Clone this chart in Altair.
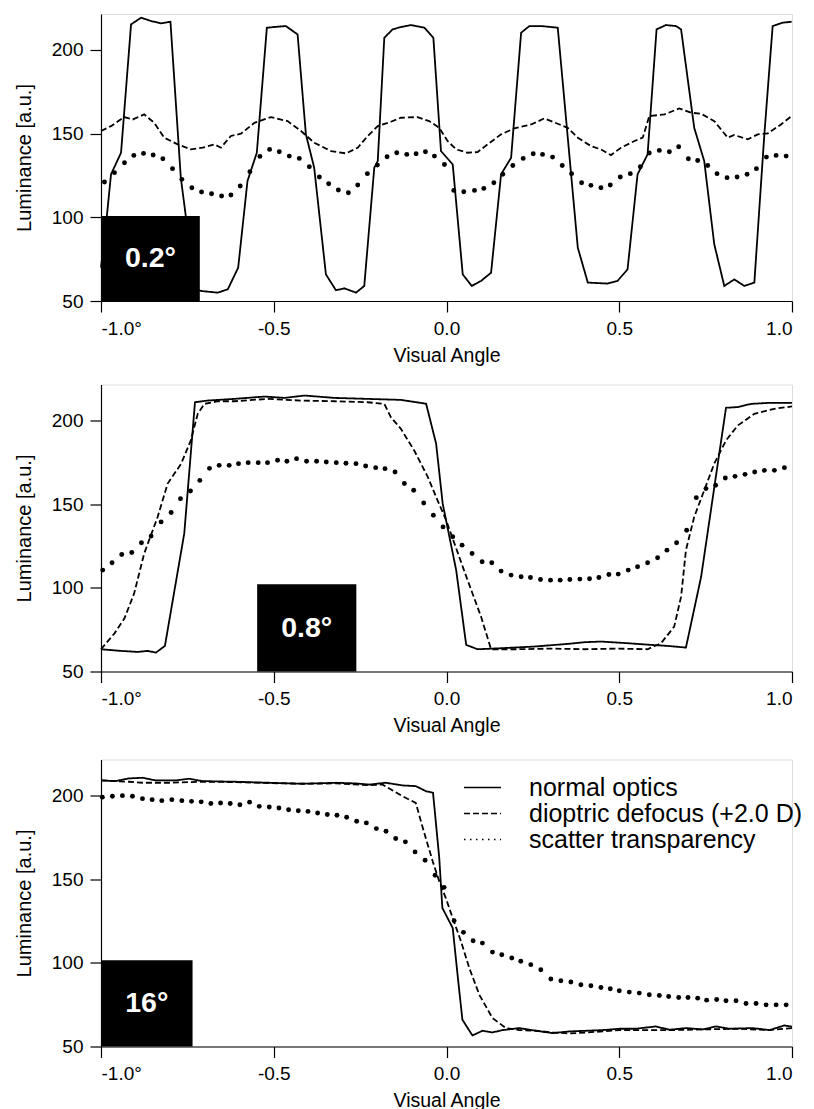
import altair as alt
import pandas as pd

FONT = "Liberation Sans"
SERIES = ["normal optics", "dioptric defocus (+2.0 D)", "scatter transparency"]
X_TICKS = [-1.0, -0.5, 0.0, 0.5, 1.0]
Y_TICKS = [50, 100, 150, 200]
Y_DOMAIN = [50, 221.5]

# ---------------- Panel 1 (0.2°) ----------------
p1_solid_x = [-1.000, -0.983, -0.971, -0.942, -0.913, -0.884, -0.855, -0.826, -0.799, -0.769, -0.754, -0.735,
              -0.711, -0.662, -0.633, -0.603, -0.576, -0.549, -0.520, -0.489, -0.465, -0.431, -0.407, -0.383,
              -0.349, -0.320, -0.296, -0.262, -0.238, -0.209, -0.199, -0.180, -0.156, -0.132, -0.103, -0.064,
              -0.038, -0.016, 0.018, 0.047, 0.073, 0.100, 0.129, 0.158, 0.187, 0.216, 0.240, 0.274, 0.322,
              0.380, 0.409, 0.466, 0.495, 0.524, 0.553, 0.582, 0.608, 0.635, 0.664, 0.679, 0.717, 0.746, 0.775,
              0.804, 0.833, 0.862, 0.891, 0.920, 0.944, 0.973, 0.999]
p1_solid_y = [70.0, 100.8, 125.7, 138.6, 215.3, 219.3, 217.3, 215.9, 216.9, 123.7, 99.8, 58.0,
              56.0, 55.0, 57.0, 69.9, 121.7, 138.6, 213.3, 213.9, 214.3, 209.3, 149.6, 129.7,
              65.9, 56.4, 57.6, 55.0, 59.0, 129.7, 133.6, 207.3, 212.3, 213.7, 214.9, 213.3,
              207.3, 139.6, 131.6, 65.9, 59.0, 62.0, 66.9, 125.7, 135.6, 210.3, 214.3, 214.3, 213.3,
              81.9, 61.0, 60.4, 62.0, 68.9, 125.7, 137.6, 212.3, 214.9, 214.3, 212.3, 153.5, 133.6, 83.9,
              59.0, 62.9, 59.0, 61.0, 149.6, 214.3, 216.3, 216.9]
p1_dash_x = [-1.000, -0.971, -0.933, -0.908, -0.875, -0.846, -0.817, -0.778, -0.740, -0.706, -0.672, -0.653,
             -0.624, -0.595, -0.556, -0.508, -0.460, -0.421, -0.383, -0.334, -0.291, -0.257, -0.228, -0.199,
             -0.161, -0.132, -0.084, -0.050, -0.021, 0.003, 0.028, 0.061, 0.090, 0.119, 0.158, 0.196, 0.245,
             0.283, 0.322, 0.351, 0.380, 0.418, 0.447, 0.476, 0.505, 0.544, 0.568, 0.587, 0.631, 0.674, 0.708,
             0.737, 0.775, 0.814, 0.833, 0.872, 0.901, 0.930, 0.968, 0.999]
p1_dash_y = [151.6, 154.5, 159.9, 158.5, 161.5, 156.5, 147.6, 143.6, 140.6, 141.6, 143.6, 141.6,
             148.6, 150.0, 156.5, 159.9, 157.5, 151.6, 144.6, 139.6, 138.2, 141.6, 148.6, 154.5,
             157.1, 159.5, 159.9, 157.5, 153.5, 145.6, 140.6, 138.6, 139.0, 143.6, 149.6, 153.1, 155.5,
             159.1, 155.9, 153.5, 147.6, 142.6, 140.6, 137.2, 141.6, 145.6, 147.6, 160.5, 161.5, 165.1, 162.5,
             161.9, 157.5, 147.6, 149.2, 146.6, 149.6, 150.2, 155.5, 160.5]
p1_dot_x = [-0.990, -0.961, -0.932, -0.905, -0.877, -0.849, -0.821, -0.793, -0.766, -0.737, -0.709, -0.680,
            -0.651, -0.624, -0.597, -0.569, -0.540, -0.512, -0.484, -0.455, -0.426, -0.397, -0.368, -0.341,
            -0.313, -0.284, -0.257, -0.229, -0.200, -0.172, -0.144, -0.115, -0.088, -0.061, -0.035, -0.006,
            0.021, 0.050, 0.081, 0.108, 0.137, 0.163, 0.192, 0.222, 0.251, 0.278, 0.307, 0.335, 0.362, 0.391,
            0.418, 0.447, 0.474, 0.503, 0.532, 0.561, 0.587, 0.616, 0.645, 0.672, 0.700, 0.727, 0.756, 0.783,
            0.812, 0.841, 0.870, 0.897, 0.926, 0.954, 0.983]
p1_dot_y = [121.1, 126.7, 132.6, 137.0, 138.2, 137.2, 135.0, 129.1, 122.7, 117.7, 115.1, 114.1,
            112.7, 113.3, 118.7, 127.3, 136.4, 140.6, 139.2, 136.6, 135.2, 130.2, 124.1, 120.1,
            116.3, 114.7, 119.3, 126.1, 131.2, 136.2, 138.6, 137.6, 138.0, 139.2, 136.6, 131.6,
            116.1, 115.3, 116.1, 117.3, 120.7, 125.7, 131.0, 135.2, 138.0, 137.6, 136.0, 131.0, 126.1, 120.7,
            119.1, 117.7, 119.3, 124.1, 126.1, 130.2, 138.4, 140.0, 139.2, 142.2, 135.0, 134.0, 131.0, 126.1,
            123.7, 124.1, 125.7, 129.1, 136.0, 137.0, 136.6]

# ---------------- Panel 2 (0.8°) ----------------
p2_solid_x = [-1.000, -0.942, -0.894, -0.865, -0.841, -0.815, -0.759, -0.728, -0.691, -0.614, -0.527, -0.469,
              -0.411, -0.325, -0.228, -0.132, -0.059, -0.030, -0.011, 0.028, 0.057, 0.090, 0.158, 0.254,
              0.351, 0.399, 0.447, 0.524, 0.592, 0.640, 0.693, 0.737, 0.809, 0.843, 0.881, 0.930, 1.000]
p2_solid_y = [63.3, 62.3, 61.7, 62.3, 61.3, 65.3, 132.5, 210.9, 211.9, 212.9, 214.3, 213.5,
              214.9, 213.5, 212.9, 212.3, 210.0, 186.1, 150.3, 110.6, 65.9, 63.3, 63.9, 64.9,
              66.5, 67.5, 67.9, 66.9, 65.9, 65.3, 64.3, 106.6, 207.6, 208.0, 209.9, 210.5, 210.5]
p2_dash_x = [-1.000, -0.961, -0.932, -0.904, -0.875, -0.836, -0.807, -0.768, -0.740, -0.720, -0.701, -0.662,
             -0.614, -0.518, -0.421, -0.325, -0.228, -0.180, -0.161, -0.132, -0.093, -0.054, -0.026, -0.001,
             0.023, 0.061, 0.100, 0.129, 0.206, 0.303, 0.399, 0.495, 0.582, 0.621, 0.659, 0.679, 0.693,
             0.717, 0.746, 0.775, 0.809, 0.843, 0.891, 0.949, 1.000]
p2_dash_y = [63.3, 72.8, 81.8, 96.7, 120.5, 142.4, 162.3, 174.2, 188.1, 204.0, 209.9, 211.5,
             211.5, 212.9, 211.9, 211.5, 210.9, 209.9, 202.0, 195.0, 181.9, 166.2, 152.3, 140.4,
             126.5, 104.6, 82.8, 63.3, 63.3, 63.7, 63.3, 63.7, 63.3, 66.9, 76.8, 94.7, 122.5,
             142.4, 158.3, 174.2, 188.1, 197.0, 204.0, 207.0, 208.4]
p2_dot_x = [-0.995, -0.968, -0.940, -0.911, -0.883, -0.855, -0.826, -0.797, -0.770, -0.741, -0.714, -0.686,
            -0.658, -0.629, -0.602, -0.574, -0.545, -0.518, -0.489, -0.462, -0.434, -0.405, -0.376, -0.348,
            -0.319, -0.291, -0.262, -0.234, -0.205, -0.178, -0.149, -0.122, -0.095, -0.066, -0.038, -0.010,
            0.018, 0.045, 0.074, 0.103, 0.131, 0.158, 0.187, 0.216, 0.243, 0.272, 0.301, 0.329, 0.357, 0.386,
            0.414, 0.441, 0.470, 0.497, 0.526, 0.553, 0.582, 0.611, 0.638, 0.666, 0.695, 0.723, 0.751, 0.779,
            0.807, 0.835, 0.864, 0.892, 0.920, 0.949, 0.978]
p2_dot_y = [110.6, 115.0, 119.9, 121.1, 126.9, 130.9, 139.4, 145.0, 153.3, 157.9, 164.2, 171.4,
            173.2, 173.2, 174.2, 174.8, 174.8, 174.8, 176.2, 175.6, 177.2, 175.6, 175.6, 175.2,
            174.8, 174.4, 174.2, 172.8, 171.8, 171.2, 169.2, 162.3, 158.3, 150.7, 143.4, 136.4,
            130.5, 125.5, 120.5, 115.6, 115.0, 110.0, 107.6, 106.6, 106.2, 105.0, 104.6, 104.6, 105.0, 105.2,
            105.4, 106.2, 108.0, 108.2, 110.6, 112.6, 115.0, 118.0, 122.5, 126.9, 134.4, 153.9, 159.3, 161.3,
            165.6, 166.6, 167.8, 169.2, 170.2, 170.2, 171.8]

# ---------------- Panel 3 (16°) ----------------
p3_solid_x = [-1.000, -0.958, -0.919, -0.880, -0.842, -0.784, -0.745, -0.707, -0.610, -0.513, -0.417, -0.320,
              -0.262, -0.224, -0.176, -0.127, -0.089, -0.060, -0.039, -0.021, -0.012, 0.018, 0.032, 0.046,
              0.075, 0.104, 0.133, 0.162, 0.211, 0.259, 0.307, 0.355, 0.404, 0.452, 0.500, 0.548, 0.606,
              0.645, 0.693, 0.742, 0.780, 0.819, 0.886, 0.935, 0.978, 1.000]
p3_solid_y = [209.0, 208.6, 210.2, 210.6, 209.0, 209.0, 210.0, 208.6, 208.2, 207.6, 207.0, 207.6,
              207.2, 206.5, 207.6, 206.0, 205.6, 202.6, 201.6, 162.7, 132.8, 120.8, 92.9, 66.0,
              56.6, 59.4, 58.4, 59.8, 61.0, 59.4, 58.0, 59.0, 59.4, 59.8, 60.6, 60.6, 62.0,
              60.0, 61.0, 60.2, 62.0, 60.6, 61.0, 59.8, 62.6, 61.8]
p3_dash_x = [-1.000, -0.919, -0.880, -0.803, -0.707, -0.610, -0.513, -0.417, -0.320, -0.224, -0.185, -0.127,
             -0.089, -0.074, -0.060, -0.040, -0.021, -0.002, 0.018, 0.042, 0.066, 0.095, 0.133, 0.172, 0.211,
             0.259, 0.307, 0.355, 0.404, 0.452, 0.500, 0.548, 0.645, 0.742, 0.838, 0.935, 1.000]
p3_dash_y = [209.0, 208.2, 207.6, 207.6, 208.2, 208.0, 207.4, 207.0, 207.2, 206.2, 206.5, 199.5,
             195.6, 184.6, 174.6, 160.7, 148.7, 138.7, 126.7, 112.8, 96.9, 80.9, 67.0, 61.0, 59.8,
             59.4, 58.4, 57.8, 58.4, 59.0, 59.8, 59.8, 59.8, 60.2, 60.6, 59.8, 61.0]
p3_dot_x = [-0.996, -0.967, -0.938, -0.909, -0.880, -0.852, -0.824, -0.795, -0.766, -0.738, -0.710, -0.682,
            -0.654, -0.626, -0.598, -0.570, -0.542, -0.513, -0.485, -0.457, -0.429, -0.401, -0.373, -0.345,
            -0.317, -0.289, -0.260, -0.232, -0.203, -0.175, -0.147, -0.119, -0.091, -0.062, -0.033, -0.007,
            0.022, 0.049, 0.077, 0.104, 0.133, 0.160, 0.189, 0.215, 0.244, 0.273, 0.302, 0.331, 0.360, 0.389,
            0.418, 0.447, 0.474, 0.500, 0.529, 0.558, 0.587, 0.616, 0.643, 0.672, 0.699, 0.727, 0.753, 0.782,
            0.809, 0.838, 0.867, 0.896, 0.925, 0.954, 0.983]
p3_dot_y = [199.0, 199.5, 199.9, 199.5, 198.1, 197.5, 196.9, 197.5, 196.9, 196.5, 196.2, 195.2,
            195.5, 195.2, 194.5, 196.0, 193.5, 193.1, 192.5, 191.5, 190.9, 190.5, 189.5, 188.6,
            188.2, 187.0, 184.6, 183.6, 180.2, 178.6, 174.3, 172.3, 166.3, 161.3, 152.3, 145.1,
            125.2, 118.2, 113.2, 111.8, 106.4, 104.8, 102.9, 100.9, 98.9, 95.9, 90.3, 89.3, 88.5, 86.9,
            86.3, 85.3, 84.5, 83.3, 82.5, 81.9, 80.9, 80.5, 79.9, 79.3, 79.3, 78.9, 77.7, 78.1,
            77.3, 77.3, 75.7, 75.7, 74.9, 74.9, 74.9]

# label boxes: [x_left, x_right, y_bottom, y_top]
box_labels = ["0.2°", "0.8°", "16°"]
box_x0 = [-1.000, -0.548, -1.000]
box_x1 = [-0.714, -0.261, -0.735]
box_y0 = [50, 50, 50]
box_y1 = [100.8, 102.1, 101.5]

X_LABEL_EXPR = ("datum.value == -1 ? '-1.0°' : (datum.value < 0 ? '-' + format(-datum.value, '.1f') "
                ": format(datum.value, '.1f'))")


def xenc(field):
    return alt.X(f"{field}:Q",
                 scale=alt.Scale(domain=[-1, 1], nice=False, zero=False),
                 axis=alt.Axis(values=X_TICKS, labelExpr=X_LABEL_EXPR),
                 title="Visual Angle")


def yenc(field):
    return alt.Y(f"{field}:Q",
                 scale=alt.Scale(domain=Y_DOMAIN, nice=False, zero=False),
                 axis=alt.Axis(values=Y_TICKS),
                 title="Luminance [a.u.]")


def panel(i, sx, sy, dx, dy, ox, oy, show_legend):
    lines = pd.DataFrame({
        "x": sx + dx,
        "y": sy + dy,
        "series": [SERIES[0]] * len(sx) + [SERIES[1]] * len(dx),
    })
    dots = pd.DataFrame({"x": ox, "y": oy})
    box = pd.DataFrame({"x0": [box_x0[i]], "x1": [box_x1[i]],
                        "y0": [box_y0[i]], "y1": [box_y1[i]], "label": [box_labels[i]]})
    box["xc"] = (box["x0"] + box["x1"]) / 2
    box["yc"] = (box["y0"] + box["y1"]) / 2

    if show_legend:
        legend = alt.Legend(orient="none", legendX=362, legendY=15.5, title=None,
                            symbolType="stroke", symbolSize=1369, symbolStrokeWidth=1.6,
                            symbolStrokeColor="black", labelFontSize=25, labelFont=FONT,
                            labelColor="black", labelOffset=27, rowPadding=0, padding=0,
                            labelLimit=0, clipHeight=25)
    else:
        legend = None

    line_layer = alt.Chart(lines).mark_line(color="black", strokeWidth=1.8).encode(
        x=xenc("x"), y=yenc("y"),
        strokeDash=alt.StrokeDash("series:N",
                                  scale=alt.Scale(domain=SERIES, range=[[1, 0], [6, 3], [1.5, 4.5]]),
                                  legend=legend),
    )
    dot_layer = alt.Chart(dots).mark_circle(color="black", size=24, opacity=1).encode(
        x=xenc("x"), y=yenc("y"))
    rect_layer = alt.Chart(box).mark_rect(color="black").encode(
        x=xenc("x0"), x2="x1", y=yenc("y0"), y2="y1")
    text_layer = alt.Chart(box).mark_text(color="white", fontSize=28.5, fontWeight="bold",
                                          font=FONT, baseline="middle", align="center").encode(
        x=xenc("xc"), y=yenc("yc"), text="label:N")
    return alt.layer(line_layer, dot_layer, rect_layer, text_layer).properties(width=691, height=287)


c1 = panel(0, p1_solid_x, p1_solid_y, p1_dash_x, p1_dash_y, p1_dot_x, p1_dot_y, False)
c2 = panel(1, p2_solid_x, p2_solid_y, p2_dash_x, p2_dash_y, p2_dot_x, p2_dot_y, False)
c3 = panel(2, p3_solid_x, p3_solid_y, p3_dash_x, p3_dash_y, p3_dot_x, p3_dot_y, True)

top_two = alt.vconcat(c1, c2, spacing=18.5).resolve_scale(
    strokeDash="independent").resolve_legend(strokeDash="independent")

chart = alt.vconcat(top_two, c3, spacing=22.5).resolve_scale(
    strokeDash="independent").resolve_legend(strokeDash="independent").properties(
    padding={"top": 5, "left": 5, "right": 0, "bottom": 0}, background="white"
).configure_view(stroke=None).configure(font=FONT).configure_axis(
    labelFont=FONT, titleFont=FONT, labelFontSize=19, labelColor="black", titleColor="black",
    titleFontWeight="normal", domainColor="black", tickColor="black", domainWidth=1.2, tickWidth=1.2,
    tickSize=11, grid=False, labelPadding=7,
).configure_axisX(titleFontSize=19.5, titlePadding=8).configure_axisY(titleFontSize=20, titlePadding=17)

chart.save("out.html", embed_options={"renderer": "svg", "actions": False})
